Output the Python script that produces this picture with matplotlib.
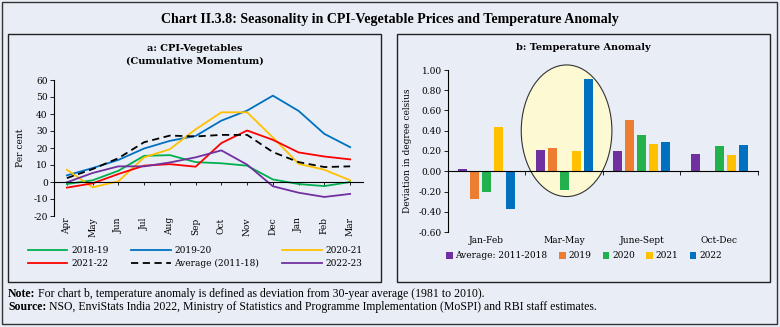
import matplotlib.pyplot as plt
from matplotlib.patches import Rectangle, Ellipse
from matplotlib.text import Annotation
import numpy as np

# CPI-vegetables, cumulative momentum (per cent)
months = ["Apr", "May", "Jun", "Jul", "Aug", "Sep", "Oct", "Nov", "Dec", "Jan", "Feb", "Mar"]
cpi_2018_19 = [-1.2, 1.0, 6.6, 15.4, 15.8, 11.7, 11.0, 9.6, 1.5, -1.2, -2.4, 0.0]
cpi_2019_20 = [3.9, 8.2, 13.0, 19.7, 24.2, 27.1, 36.1, 42.0, 50.8, 41.8, 28.3, 20.5]
cpi_2020_21 = [7.2, -3.1, 0.4, 14.5, 19.3, 31.0, 41.0, 41.0, 26.2, 10.7, 7.2, 1.0]
cpi_2021_22 = [-3.3, -0.8, 4.7, 9.6, 10.5, 9.0, 22.9, 30.3, 24.8, 17.4, 15.0, 13.3]
cpi_avg_2011_18 = [2.3, 7.6, 14.0, 23.4, 27.3, 26.8, 27.7, 27.7, 17.6, 11.7, 8.8, 9.2]
cpi_2022_23 = [-0.2, 5.3, 9.2, 9.2, 11.5, 14.5, 18.6, 10.2, -2.5, -6.3, -8.8, -7.0]

# Temperature anomaly (deviation in degree celsius)
seasons = ["Jan-Feb", "Mar-May", "June-Sept", "Oct-Dec"]
temp_avg_2011_18 = [0.02, 0.21, 0.20, 0.17]
temp_2019 = [-0.27, 0.23, 0.51, -0.01]
temp_2020 = [-0.20, -0.19, 0.36, 0.25]
temp_2021 = [0.44, 0.20, 0.27, 0.16]
temp_2022 = [-0.37, 0.91, 0.29, 0.26]

BG = "#e9eef6"
SERIF = "DejaVu Serif"
W, H = 780, 327


def fx(px):
    return px / W


def fy(py):
    return 1 - py / H


def ax_rect(left, top, right, bottom):
    return [fx(left), fy(bottom), (right - left) / W, (bottom - top) / H]


plt.rcParams["font.family"] = SERIF
plt.rcParams["font.size"] = 6.5
plt.rcParams["axes.unicode_minus"] = False

fig = plt.figure(figsize=(7.8, 3.27), dpi=100)
fig.patch.set_facecolor(BG)

# frames
fig.add_artist(Rectangle((fx(2), fy(324)), (777 - 2) / W, (324 - 2) / H, transform=fig.transFigure,
                         fill=False, ec="#333333", lw=1.0))
for left, right in [(8, 381), (397, 770)]:
    fig.add_artist(Rectangle((fx(left), fy(282)), (right - left) / W, (282 - 34) / H,
                             transform=fig.transFigure, fill=False, ec="#222222", lw=1.0))

fig.text(0.5, fy(19), "Chart II.3.8: Seasonality in CPI-Vegetable Prices and Temperature Anomaly",
         ha="center", va="center", family="Liberation Serif", weight="bold", fontsize=10.1)

# ---- panel a ----
ax1 = fig.add_axes(ax_rect(54, 80, 363, 216))
ax1.set_facecolor("none")
x = np.arange(len(months))
series_a = [
    (cpi_2018_19, "2018-19", "#00b050", "-"),
    (cpi_2019_20, "2019-20", "#0070c0", "-"),
    (cpi_2020_21, "2020-21", "#ffc000", "-"),
    (cpi_2021_22, "2021-22", "#ff0000", "-"),
    (cpi_avg_2011_18, "Average (2011-18)", "black", (0, (4, 2.5))),
    (cpi_2022_23, "2022-23", "#7030a0", "-"),
]
for vals, lab, col, ls in series_a:
    ax1.plot(x, vals, color=col, ls=ls, lw=1.3, label=lab)

ax1.set_xlim(-0.5, len(months) - 0.5)
ax1.set_ylim(-20, 60)
ax1.set_yticks(range(-20, 61, 10))
ax1.spines[["top", "right"]].set_visible(False)
ax1.spines["bottom"].set_position(("data", 0))
ax1.spines["bottom"].set_linewidth(0.8)
ax1.spines["left"].set_linewidth(0.8)
ax1.set_xticks(x)
ax1.tick_params(axis="x", length=2, width=0.6, labelbottom=False)
ax1.tick_params(axis="y", length=3, width=0.6, pad=1.5)
for i, m in enumerate(months):
    ax1.text(i, -0.01, m, transform=ax1.get_xaxis_transform(), rotation=90,
             ha="center", va="top")
ax1.set_ylabel("Per cent", labelpad=6)
fig.text(fx(195), fy(55), "a: CPI-Vegetables\n(Cumulative Momentum)", ha="center", va="center",
         weight="bold", fontsize=7, linespacing=1.5)

# legend fills column by column, so reorder to read row-wise
handles, labels = ax1.get_legend_handles_labels()
order = [0, 3, 1, 4, 2, 5]
fig.legend([handles[i] for i in order], [labels[i] for i in order], ncol=3, loc="lower left",
           bbox_to_anchor=(fx(24), fy(272), (366 - 24) / W, (272 - 240) / H),
           mode="expand", frameon=False, handlelength=4.4, handletextpad=0.4,
           labelspacing=0.5, borderaxespad=0, fontsize=6.5)

# ---- panel b ----
ax2 = fig.add_axes(ax_rect(448, 70, 758, 232))
ax2.set_facecolor("none")
xs = np.arange(len(seasons))
series_b = [
    (temp_avg_2011_18, "Average: 2011-2018", "#7030a0"),
    (temp_2019, "2019", "#ed7d31"),
    (temp_2020, "2020", "#22b14c"),
    (temp_2021, "2021", "#ffc000"),
    (temp_2022, "2022", "#0070c0"),
]
step, bw = 0.155, 0.115
for k, (vals, lab, col) in enumerate(series_b):
    ax2.bar(xs + (k - 2) * step, vals, width=bw, color=col, label=lab, zorder=3)

# highlight the pre-monsoon season
hi = seasons.index("Mar-May")
ax2.add_patch(Ellipse((hi + 0.03, 0.40), 1.17, 1.30, fc="#fdf9d2", ec="#333333", lw=0.8,
                      zorder=1, clip_on=False))

ax2.set_xlim(-0.5, len(seasons) - 0.5)
ax2.set_ylim(-0.6, 1.0)
ax2.set_yticks(np.arange(-0.6, 1.01, 0.2))
ax2.yaxis.set_major_formatter(lambda v, p: f"{v:.2f}".replace("-0.00", "0.00"))
ax2.spines[["top", "right"]].set_visible(False)
ax2.spines["bottom"].set_position(("data", 0))
ax2.spines["bottom"].set_linewidth(0.8)
ax2.spines["bottom"].set_zorder(4)
ax2.spines["left"].set_linewidth(0.8)
ax2.set_xticks(xs + 0.5)
ax2.tick_params(axis="x", length=3, width=0.6, labelbottom=False)
ax2.tick_params(axis="y", length=3, width=0.6, pad=1.5)
for i, s in enumerate(seasons):
    ax2.text(i, -0.025, s, transform=ax2.get_xaxis_transform(), ha="center", va="top")
ax2.set_ylabel("Deviation in degree celsius", labelpad=5)
fig.text(fx(583), fy(47), "b: Temperature Anomaly", ha="center", va="center",
         weight="bold", fontsize=7)

fig.legend(*ax2.get_legend_handles_labels(), ncol=5, loc="center", bbox_to_anchor=(fx(584), fy(256)),
           frameon=False, handlelength=0.7, handleheight=0.7, handletextpad=0.3,
           columnspacing=1.3, borderaxespad=0, fontsize=6.5)

# footnotes
for py, head, body in [
    (294, "Note:", " For chart b, temperature anomaly is defined as deviation from 30-year average (1981 to 2010)."),
    (307, "Source:", " NSO, EnviStats India 2022, Ministry of Statistics and Programme Implementation (MoSPI) and RBI staff estimates."),
]:
    t = fig.text(fx(8), fy(py), head, ha="left", va="center", family="Liberation Serif",
                 weight="bold", fontsize=8.5)
    fig.add_artist(Annotation(body, xy=(1, 0.5), xycoords=t, ha="left", va="center",
                              family="Liberation Serif", fontsize=8.5))

fig.savefig("out.png", dpi=100, facecolor=BG)
